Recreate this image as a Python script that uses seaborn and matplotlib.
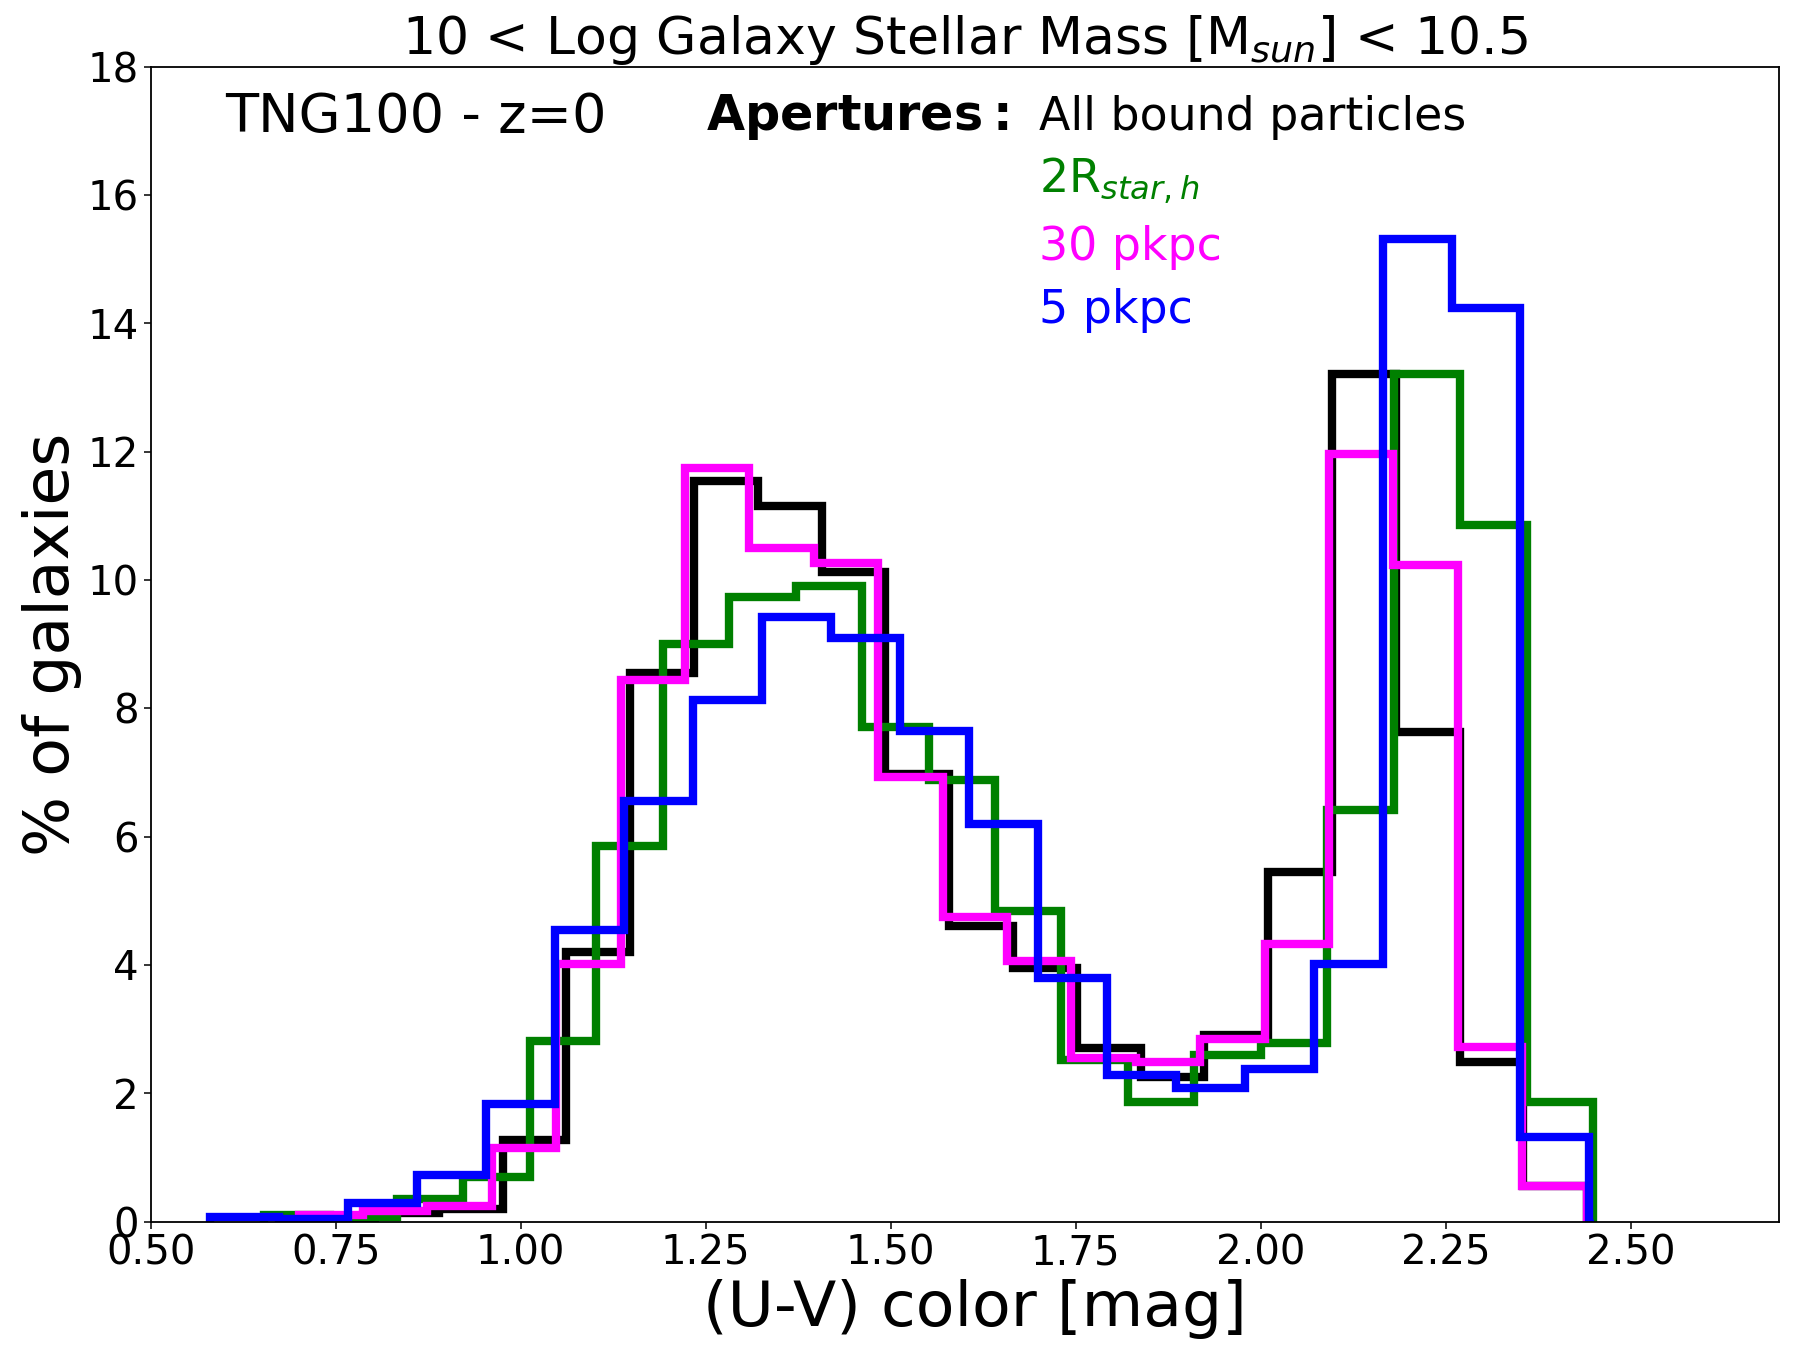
import numpy as np
import pandas as pd
import matplotlib
matplotlib.use("Agg")
import matplotlib.pyplot as plt
import seaborn as sns

# U-V colour histograms (20 bins each), percent of galaxies per bin
n_bins = 20

all_lo, all_hi = 0.717, 2.441
all_pct = [0.05, 0.13, 0.20, 1.27, 4.20, 8.55, 11.54, 11.15, 10.12, 6.98,
           4.61, 3.95, 2.70, 2.26, 2.91, 5.45, 13.21, 7.63, 2.49, 0.55]

r2_lo, r2_hi = 0.653, 2.449
r2_pct = [0.10, 0.07, 0.35, 0.69, 2.81, 5.85, 9.00, 9.74, 9.90, 7.71,
          6.88, 4.84, 2.52, 1.87, 2.59, 2.78, 6.41, 13.21, 10.86, 1.86]

p30_lo, p30_hi = 0.700, 2.440
p30_pct = [0.11, 0.16, 0.24, 1.14, 4.01, 8.44, 11.74, 10.50, 10.26, 6.93,
           4.74, 4.06, 2.55, 2.49, 2.84, 4.32, 11.97, 10.24, 2.72, 0.55]

p5_lo, p5_hi = 0.580, 2.444
p5_pct = [0.08, 0.04, 0.29, 0.72, 1.83, 4.55, 6.56, 8.13, 9.42, 9.10,
          7.65, 6.19, 3.79, 2.29, 2.09, 2.38, 4.01, 15.31, 14.24, 1.32]

x_ticks = [0.5, 0.75, 1.0, 1.25, 1.5, 1.75, 2.0, 2.25, 2.5]
y_ticks = list(range(0, 19, 2))

sns.set_style("ticks")
plt.rcParams['font.family'] = ['DejaVu Sans']
plt.rcParams['mathtext.fontset'] = 'dejavusans'
# plain black text and axes like the original
for key in ['text.color', 'axes.labelcolor', 'xtick.color', 'ytick.color', 'axes.edgecolor']:
    plt.rcParams[key] = 'black'

fig, ax = plt.subplots(figsize=(18.02, 13.61), dpi=100)
fig.subplots_adjust(left=0.0836, right=0.9872, bottom=0.1024, top=0.951)


def step_hist(lo, hi, pct, color):
    # tiny empty bins on both sides so the outline drops to zero like histtype='step'
    eps = 1e-4
    edges = np.linspace(lo, hi, n_bins + 1)
    bins = np.r_[lo - eps, edges, hi + eps]
    df = pd.DataFrame({"color": (bins[:-1] + bins[1:]) / 2,
                       "pct": np.r_[0, pct, 0]})
    sns.histplot(data=df, x="color", weights="pct", bins=bins.tolist(),
                 element="step", fill=False, color=color, linewidth=6,
                 solid_joinstyle="miter", ax=ax)


step_hist(all_lo, all_hi, all_pct, "black")
step_hist(r2_lo, r2_hi, r2_pct, "green")
step_hist(p30_lo, p30_hi, p30_pct, "magenta")
step_hist(p5_lo, p5_hi, p5_pct, "blue")

ax.set_xlim(0.5, 2.7)
ax.set_ylim(0, 18)
ax.set_xticks(x_ticks)
ax.set_yticks(y_ticks)
ax.tick_params(labelsize=29, length=5, width=1.1)
for s in ax.spines.values():
    s.set_linewidth(1.3)

ax.set_xlabel("(U-V) color [mag]", fontsize=45.5, labelpad=4)
ax.xaxis.label.set_x(0.506)
ax.set_ylabel("% of galaxies", fontsize=45.5, labelpad=4)
ax.set_title(r"10 < Log Galaxy Stellar Mass [M$_{sun}$] < 10.5", fontsize=37.5, pad=8)

ax.text(0.0456, 0.9437, "TNG100 - z=0", fontsize=39, transform=ax.transAxes, va="baseline")
ax.text(0.341, 0.9452, r"$\bf{Apertures:}$", fontsize=35.5, transform=ax.transAxes, va="baseline")
ax.text(0.5455, 0.9452, "All bound particles", fontsize=33, transform=ax.transAxes, va="baseline")
ax.text(0.5455, 0.8907, r"2R$_{star,h}$", fontsize=33, color="green", transform=ax.transAxes, va="baseline")
ax.text(0.5455, 0.8326, "30 pkpc", fontsize=33, color="magenta", transform=ax.transAxes, va="baseline")
ax.text(0.5455, 0.7780, "5 pkpc", fontsize=33, color="blue", transform=ax.transAxes, va="baseline")

fig.savefig("out.png", dpi=100)
